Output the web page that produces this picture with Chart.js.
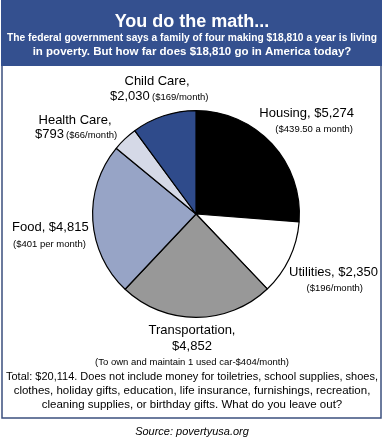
<!DOCTYPE html>
<html lang="en">
  <head>
    <meta charset="UTF-8" />
    <title>You do the math...</title>
    <script src="https://cdn.jsdelivr.net/npm/chart.js"></script>
    <style>
      html, body { margin: 0; padding: 0; background: #fff; }
      #wrap { width: 385px; height: 448px; position: relative; }
    </style>
  </head>
  <body>
    <div id="wrap"><canvas id="chart" width="385" height="448"></canvas></div>
    <script>
      const categories = ["Housing", "Utilities", "Transportation", "Food", "Health Care", "Child Care"];
      const costs = [5274, 2350, 4852, 4815, 793, 2030];
      const colors = ["#000000", "#ffffff", "#989898", "#97a4c6", "#d5d9e7", "#2f4b8b"];

      const FONT = "'Liberation Sans', Arial, sans-serif";

      // label text, anchor x, y, alignment, size
      const labels = [
        ["Child Care,", 157, 81, "center", 13],
        ["$2,030", 110, 96, "left", 13],
        ["($169/month)", 152, 97, "left", 9.5],
        ["Health Care,", 75, 120, "center", 13],
        ["$793", 35, 134, "left", 13],
        ["($66/month)", 66, 135, "left", 9.5],
        ["Food, $4,815", 12, 227, "left", 13],
        ["($401 per month)", 13, 244, "left", 9.5],
        ["Housing, $5,274", 354, 113, "right", 13],
        ["($439.50 a month)", 353, 129, "right", 9.5],
        ["Utilities, $2,350", 378, 272, "right", 13],
        ["($196/month)", 363, 288, "right", 9.5],
        ["Transportation,", 192, 330, "center", 13],
        ["$4,852", 192, 346, "center", 13],
        ["(To own and maintain 1 used car-$404/month)", 192, 362, "center", 9.5],
      ];

      const footLines = [
        "Total: $20,114. Does not include money for toiletries, school supplies, shoes,",
        "clothes, holiday gifts, education, life insurance, furnishings, recreation,",
        "cleaning supplies, or birthday gifts. What do you leave out?",
      ];

      function fitText(ctx, text, x, y, maxW) {
        const w = ctx.measureText(text).width;
        if (w > maxW) {
          ctx.save();
          ctx.translate(x, y);
          ctx.scale(maxW / w, 1);
          ctx.fillText(text, 0, 0);
          ctx.restore();
        } else {
          ctx.fillText(text, x, y);
        }
      }

      const frame = {
        id: "frame",
        beforeDraw(chart) {
          const ctx = chart.ctx;
          ctx.save();
          ctx.fillStyle = "#ffffff";
          ctx.fillRect(0, 0, 385, 448);
          // body box
          ctx.strokeStyle = "#3b4f7e";
          ctx.lineWidth = 1.5;
          ctx.strokeRect(2, 60, 379, 358);
          // header
          ctx.fillStyle = "#34508f";
          ctx.fillRect(1, 0, 381, 66);
          ctx.fillStyle = "#ffffff";
          ctx.textAlign = "center";
          ctx.textBaseline = "middle";
          ctx.font = "bold 18px " + FONT;
          ctx.fillText("You do the math...", 192, 22);
          ctx.font = "bold 11.5px " + FONT;
          fitText(ctx, "The federal government says a family of four making $18,810 a year is living", 192, 38, 370);
          ctx.fillText("in poverty. But how far does $18,810 go in America today?", 192, 52);
          ctx.restore();
        },
        afterDraw(chart) {
          const ctx = chart.ctx;
          ctx.save();
          ctx.fillStyle = "#000000";
          ctx.textBaseline = "middle";
          labels.forEach(([t, x, y, a, s]) => {
            ctx.font = s + "px " + FONT;
            ctx.textAlign = a;
            ctx.fillText(t, x, y);
          });
          ctx.textAlign = "center";
          ctx.font = "11.5px " + FONT;
          footLines.forEach((t, i) => fitText(ctx, t, 192, 377 + i * 14, 372));
          ctx.font = "italic 11px " + FONT;
          ctx.fillText("Source: povertyusa.org", 192, 432);
          ctx.restore();
        },
      };

      new Chart(document.getElementById("chart"), {
        type: "pie",
        data: {
          labels: categories,
          datasets: [
            {
              data: costs,
              backgroundColor: colors,
              borderColor: "#000000",
              borderWidth: 1.2,
            },
          ],
        },
        options: {
          responsive: false,
          animation: false,
          layout: { padding: { left: 92, right: 85, top: 110, bottom: 130 } },
          plugins: {
            legend: { display: false },
            tooltip: { enabled: false },
          },
        },
        plugins: [frame],
      });
    </script>
  </body>
</html>
